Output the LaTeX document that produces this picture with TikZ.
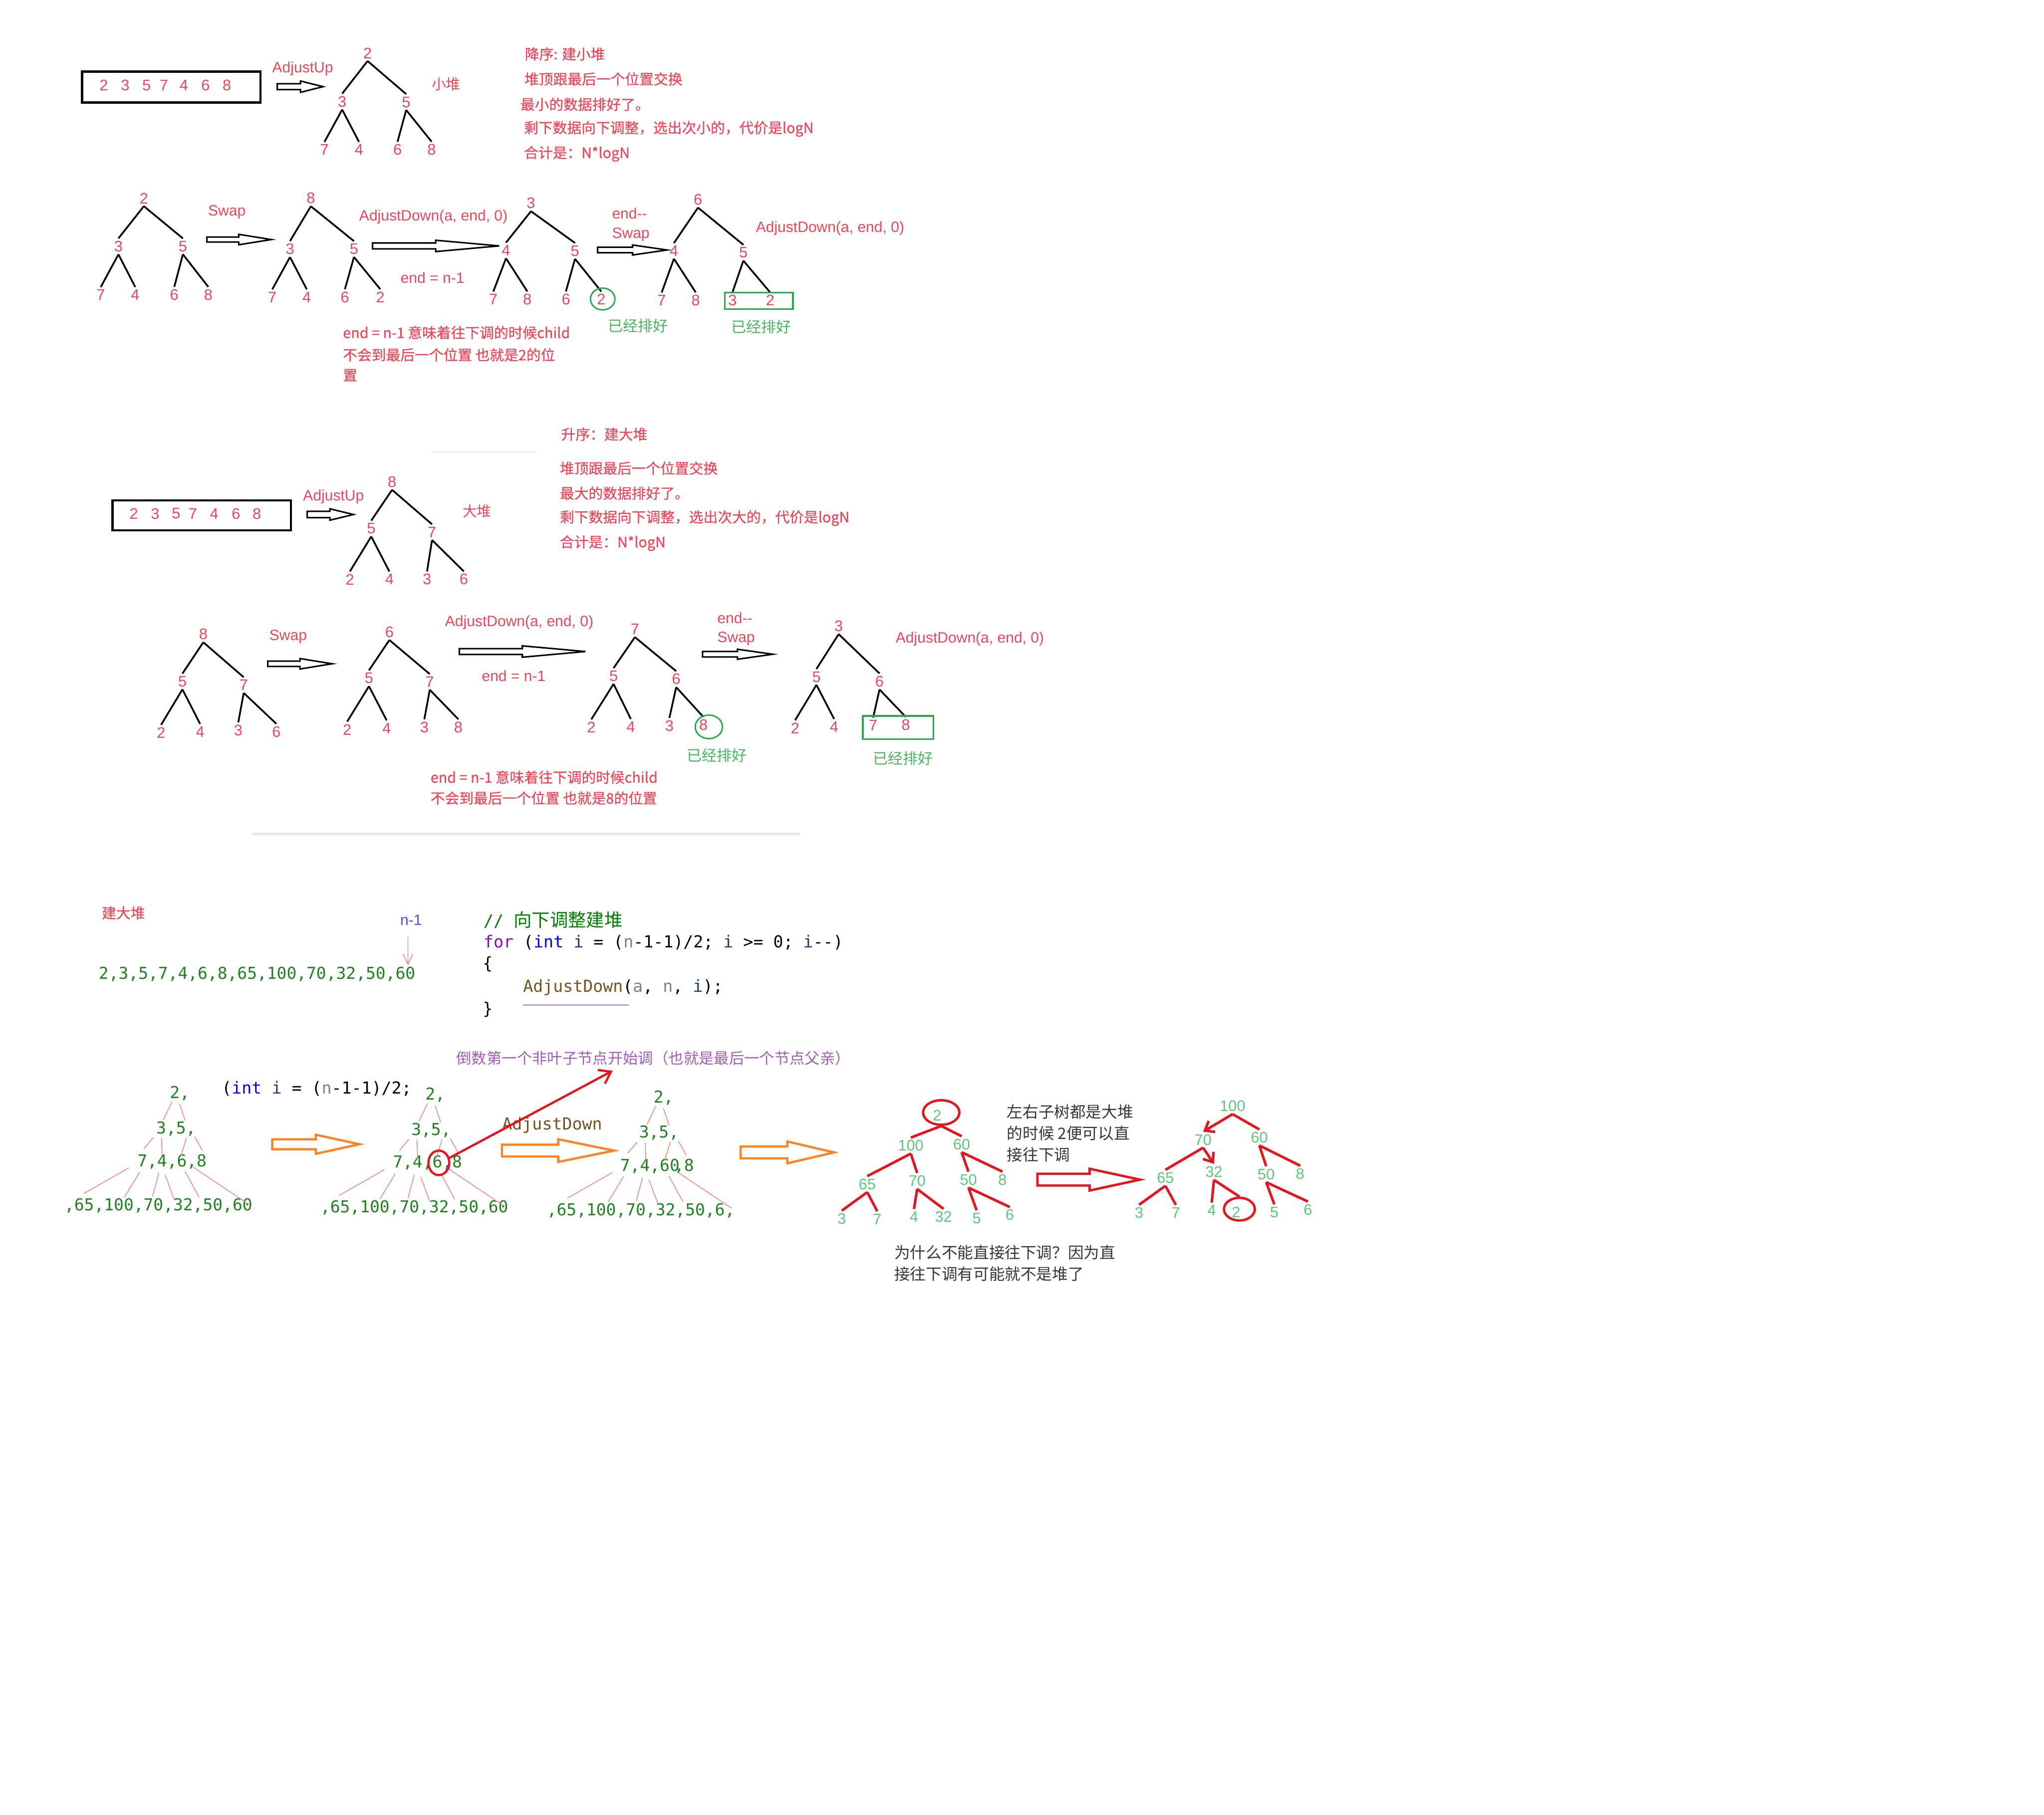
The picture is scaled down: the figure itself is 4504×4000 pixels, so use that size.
\documentclass[tikz,border=0pt]{standalone}
\usepackage{fontspec}
\setmainfont{Liberation Sans}
\newfontfamily\cjkf{Noto Sans CJK SC}
\newfontfamily\cjkm{Noto Sans CJK SC}[FakeBold=0.6]
\newfontfamily\monof{DejaVu Sans Mono}
\usetikzlibrary{arrows.meta,shapes.geometric}
\definecolor{hred}{RGB}{240,70,88}
\definecolor{okgreen}{RGB}{40,170,70}
\definecolor{okgtext}{RGB}{70,185,90}
\definecolor{mgreen}{RGB}{30,130,30}
\definecolor{lgreen}{RGB}{90,200,120}
\definecolor{pinkc}{RGB}{245,135,135}
\definecolor{orng}{RGB}{255,130,35}
\definecolor{bred}{RGB}{230,20,30}
\definecolor{dgray}{RGB}{55,55,55}
\definecolor{purpl}{RGB}{165,90,190}
\definecolor{nblue}{RGB}{80,80,220}
\definecolor{kwpurple}{RGB}{143,8,196}
\definecolor{kwblue}{RGB}{0,0,255}
\definecolor{idblue}{RGB}{31,55,127}
\definecolor{ngray}{RGB}{128,128,128}
\definecolor{brn}{RGB}{116,83,31}
\definecolor{cgreen}{RGB}{0,128,0}
\definecolor{faint}{RGB}{232,232,232}
% #1 style, #2 x start, #3 x head base, #4 x tip, #5 y centre, #6 shaft half, #7 head half
\newcommand\hollowarrow[7]{%
  \draw[#1] ({#2},{#5-#6}) -- ({#3},{#5-#6}) -- ({#3},{#5-#7}) -- ({#4},{#5})
    -- ({#3},{#5+#7}) -- ({#3},{#5+#6}) -- ({#2},{#5+#6}) -- cycle;}
\newcommand\sevedges[2]{%
  \draw[#2] (#1r.south) -- (#1a.north);
  \draw[#2] (#1r.south) -- (#1b.north);
  \draw[#2] (#1a.south) -- (#1c.north);
  \draw[#2] (#1a.south) -- (#1d.north);
  \draw[#2] (#1b.south) -- (#1e.north);
  \draw[#2] (#1b.south) -- (#1f.north);}
\begin{document}
\begin{tikzpicture}[x=0.1mm,y=-0.1mm,
  lab/.style={text=hred,font=\fontsize{9.4pt}{11pt}\selectfont,inner sep=0pt},
  tn/.style={text=hred,font=\fontsize{9.6pt}{11pt}\selectfont,inner sep=0.5mm},
  gn/.style={text=lgreen,font=\fontsize{9.6pt}{11pt}\selectfont,inner sep=0.5mm},
  tedge/.style={line width=1.1pt,black},
  redge/.style={line width=1.6pt,bred},
  blk/.style={draw=black,line width=0.95pt,line join=miter},
  oarr/.style={draw=orng,line width=1.4pt,line join=miter},
  ctext/.style={text=hred,font=\cjkm\fontsize{9pt}{11pt}\selectfont,inner sep=0pt,anchor=west},
  gtext/.style={text=okgtext,font=\cjkf\fontsize{9.4pt}{11pt}\selectfont,inner sep=0pt},
  grtxt/.style={text=dgray,font=\cjkf\fontsize{9.9pt}{12pt}\selectfont,inner sep=0pt,anchor=west},
  mrow/.style={text=mgreen,font=\monof\fontsize{10.3pt}{12pt}\selectfont,inner sep=0pt},
  code/.style={font=\monof\fontsize{10.4pt}{12pt}\selectfont,inner sep=0pt,anchor=west},
  pinkl/.style={draw=pinkc,line width=0.5pt},
  boxst/.style={draw=black,line width=1.4pt,minimum width=39.3mm,inner sep=0pt}
]
\fill[white] (0,0) rectangle (4504,4000);
\useasboundingbox (0,0) rectangle (4504,4000);

%================ Section 1 : descending =================
\node[boxst,minimum height=6.8mm] (boxa) at (377.5,192) {};
\foreach \x/\d [count=\i] in {229/2,276/3,323/5,361/7,405/4,453/6,500/8}
  \node[tn] (bxa\i) at (\x,188) {\d};
\hollowarrow{blk}{611}{662}{712}{191}{6.5}{12.5}
\node[lab] (adjup1) at (667,151) {AdjustUp};
\node[tn] (tar) at (810,117) {2};
\node[tn] (taa) at (754,224) {3};
\node[tn] (tab) at (895,225) {5};
\node[tn] (tac) at (715,330) {7};
\node[tn] (tad) at (791,330) {4};
\node[tn] (tae) at (876,330) {6};
\node[tn] (taf) at (951,330) {8};
\sevedges{ta}{tedge}
\node[text=hred,font=\cjkf\fontsize{9pt}{11pt}\selectfont,inner sep=0pt] (xiaodui) at (983,185) {小堆};
\node[ctext] (d1) at (1156,119) {降序: 建小堆};
\node[ctext] (d2) at (1155,174) {堆顶跟最后一个位置交换};
\node[ctext] (d3) at (1146,230) {最小的数据排好了。};
\node[ctext] (d4) at (1154,284) {剩下数据向下调整，选出次小的，代价是logN};
\node[ctext] (d5) at (1154,339) {合计是：N*logN};

%================ Section 2 =================
\node[tn] (par) at (317,437) {2};
\node[tn] (paa) at (261,543) {3};
\node[tn] (pab) at (403,543) {5};
\node[tn] (pac) at (222,650) {7};
\node[tn] (pad) at (298,650) {4};
\node[tn] (pae) at (384,650) {6};
\node[tn] (paf) at (459,650) {8};
\sevedges{pa}{tedge}
\hollowarrow{blk}{456}{526}{598}{528}{5.5}{11.5}
\node[lab] (swap1) at (500,468) {Swap};

\node[tn] (pbr) at (685,437) {8};
\node[tn] (pba) at (639,549) {3};
\node[tn] (pbb) at (780,549) {5};
\node[tn] (pbc) at (600,655) {7};
\node[tn] (pbd) at (676,655) {4};
\node[tn] (pbe) at (760,655) {6};
\node[tn] (pbf) at (838,655) {2};
\sevedges{pb}{tedge}
\hollowarrow{blk}{821}{960}{1100}{542}{6.5}{12.5}
\node[lab,anchor=west] (ad1) at (791,478) {AdjustDown(a, end, 0)};
\node[lab] (en1) at (953,612) {end = n-1};
\node[ctext] (m1) at (755,733) {end = n-1 意味着往下调的时候child};
\node[ctext] (m2) at (755,782) {不会到最后一个位置 也就是2的位};
\node[ctext] (m3) at (755,827) {置};

\node[tn] (pcr) at (1170,448) {3};
\node[tn] (pca) at (1115,552) {4};
\node[tn] (pcb) at (1267,553) {5};
\node[tn] (pcc) at (1087,660) {7};
\node[tn] (pcd) at (1162,660) {8};
\node[tn] (pce) at (1247,660) {6};
\node[tn] (pcf) at (1325,660) {2};
\sevedges{pc}{tedge}
\node[draw=okgreen,ellipse,line width=0.9pt,minimum width=5.4mm,minimum height=4.8mm,inner sep=0pt] (gc1) at (1328,659) {};
\node[gtext] (ok1) at (1406,718) {已经排好};
\hollowarrow{blk}{1317}{1394}{1470}{551}{6}{11}
\node[lab,anchor=west] (endd1) at (1348,470) {end-{}-};
\node[lab,anchor=west] (swap2) at (1348,517) {Swap};

\node[tn] (pdr) at (1538,440) {6};
\node[tn] (pda) at (1485,553) {4};
\node[tn] (pdb) at (1638,557) {5};
\node[tn] (pdc) at (1458,662) {7};
\node[tn] (pdd) at (1533,662) {8};
\node[tn] (pde) at (1614,662) {3};
\node[tn] (pdf) at (1697,662) {2};
\sevedges{pd}{tedge}
\node[draw=okgreen,line width=1.1pt,minimum width=15mm,minimum height=3.6mm,inner sep=0pt] (gr1) at (1672,663) {};
\node[gtext] (ok2) at (1677,720) {已经排好};
\node[lab,anchor=west] (ad2) at (1665,503) {AdjustDown(a, end, 0)};

%================ Section 3 : ascending =================
\draw[faint,line width=0.8pt] (950,996) -- (1180,996);
\node[boxst,minimum height=6.6mm] (boxb) at (444.5,1136) {};
\foreach \x/\d [count=\i] in {295/2,342/3,388/5,425/7,472/4,520/6,566/8}
  \node[tn] (bxb\i) at (\x,1132) {\d};
\hollowarrow{blk}{677}{727}{779}{1134}{7}{12.5}
\node[lab] (adjup2) at (735,1095) {AdjustUp};
\node[tn] (per) at (864,1062) {8};
\node[tn] (pea) at (818,1165) {5};
\node[tn] (peb) at (952,1173) {7};
\node[tn] (pec) at (771,1277) {2};
\node[tn] (ped) at (858,1277) {4};
\node[tn] (pee) at (941,1277) {3};
\node[tn] (pef) at (1022,1277) {6};
\sevedges{pe}{tedge}
\node[text=hred,font=\cjkf\fontsize{9pt}{11pt}\selectfont,inner sep=0pt] (dadui) at (1051,1127) {大堆};
\node[ctext] (u1) at (1236,957) {升序：建大堆};
\node[ctext] (u2) at (1233,1032) {堆顶跟最后一个位置交换};
\node[ctext] (u3) at (1233,1087) {最大的数据排好了。};
\node[ctext] (u4) at (1233,1142) {剩下数据向下调整，选出次大的，代价是logN};
\node[ctext] (u5) at (1233,1197) {合计是：N*logN};

%================ Section 4 =================
\node[tn] (pfr) at (448,1398) {8};
\node[tn] (pfa) at (402,1502) {5};
\node[tn] (pfb) at (537,1510) {7};
\node[tn] (pfc) at (355,1615) {2};
\node[tn] (pfd) at (441,1613) {4};
\node[tn] (pfe) at (525,1610) {3};
\node[tn] (pff) at (609,1613) {6};
\sevedges{pf}{tedge}
\hollowarrow{blk}{590}{661}{732}{1463}{6}{11.5}
\node[lab] (swap3) at (635,1403) {Swap};

\node[tn] (pgr) at (858,1393) {6};
\node[tn] (pga) at (813,1495) {5};
\node[tn] (pgb) at (947,1503) {7};
\node[tn] (pgc) at (765,1608) {2};
\node[tn] (pgd) at (852,1605) {4};
\node[tn] (pge) at (935,1603) {3};
\node[tn] (pgf) at (1010,1603) {8};
\sevedges{pg}{tedge}
\hollowarrow{blk}{1012}{1151}{1290}{1436}{6.5}{12.5}
\node[lab,anchor=west] (ad3) at (980,1372) {AdjustDown(a, end, 0)};
\node[lab] (en2) at (1132,1490) {end = n-1};
\node[ctext] (m4) at (948,1713) {end = n-1 意味着往下调的时候child};
\node[ctext] (m5) at (948,1759) {不会到最后一个位置 也就是8的位置};

\node[tn] (phr) at (1399,1387) {7};
\node[tn] (pha) at (1352,1490) {5};
\node[tn] (phb) at (1490,1497) {6};
\node[tn] (phc) at (1303,1603) {2};
\node[tn] (phd) at (1390,1602) {4};
\node[tn] (phe) at (1475,1600) {3};
\node[tn] (phf) at (1550,1598) {8};
\sevedges{ph}{tedge}
\node[draw=okgreen,ellipse,line width=0.9pt,minimum width=6mm,minimum height=5.2mm,inner sep=0pt] (gc2) at (1562,1602) {};
\node[gtext] (ok3) at (1580,1665) {已经排好};
\hollowarrow{blk}{1548}{1625}{1703}{1442}{6}{11}
\node[lab,anchor=west] (endd2) at (1580,1362) {end-{}-};
\node[lab,anchor=west] (swap4) at (1580,1408) {Swap};

\node[tn] (pir) at (1848,1380) {3};
\node[tn] (pia) at (1799,1492) {5};
\node[tn] (pib) at (1938,1502) {6};
\node[tn] (pic) at (1752,1605) {2};
\node[tn] (pid) at (1838,1602) {4};
\node[tn] (pie) at (1924,1599) {7};
\node[tn] (pif) at (1996,1598) {8};
\sevedges{pi}{tedge}
\node[draw=okgreen,line width=1.1pt,minimum width=15.6mm,minimum height=5.1mm,inner sep=0pt] (gr2) at (1979,1603.5) {};
\node[gtext] (ok4) at (1990,1672) {已经排好};
\node[lab,anchor=west] (ad4) at (1973,1408) {AdjustDown(a, end, 0)};
\draw[faint,line width=1.4pt] (555,1838) -- (1762,1838);

%================ Section 5 : code =================
\node[text=hred,font=\cjkm\fontsize{9pt}{11pt}\selectfont,inner sep=0pt] (jdd) at (272,2012) {建大堆};
\node[lab,text=nblue] (nm1) at (906,2028) {n-1};
\coordinate (narrS) at (899,2065);
\coordinate (narrE) at (899,2127);
\draw[hred!80,line width=0.4pt,-{Straight Barb[length=2.3mm,width=2.2mm]}] (narrS) -- (narrE);
\node[mrow,anchor=west] (seq) at (217,2147) {2,3,5,7,4,6,8,65,100,70,32,50,60};
\node[code,text=cgreen] (cmt) at (1065,2027) {// {\cjkf\fontsize{11.4pt}{13pt}\selectfont 向下调整建堆}};
\node[code] (forl) at (1065,2077) {\textcolor{kwpurple}{for} (\textcolor{kwblue}{int} \textcolor{idblue}{i} = (\textcolor{ngray}{n}-1-1)/2; \textcolor{idblue}{i} >= 0; \textcolor{idblue}{i}-{}-)};
\node[code] (ob) at (1063,2125) {\{};
\node[code] (adjl) at (1152,2177) {\textcolor{brn}{AdjustDown}(\textcolor{ngray}{a}, \textcolor{ngray}{n}, \textcolor{idblue}{i});};
\node[code] (cb) at (1063,2225) {\}};
\draw[purpl!60,line width=0.9pt] (1152,2215) -- (1385,2215);

%================ Section 6 =================
\node[mrow] (i1) at (396,2410) {2,};
\node[mrow] (i2) at (388,2488) {3,5,};
\node[mrow] (i3) at (379,2560) {7,4,6,8};
\node[mrow] (i4) at (349,2657) {,65,100,70,32,50,60};
\node[mrow] (j1) at (959,2413) {2,};
\node[mrow] (j2) at (950,2491) {3,5,};
\node[mrow] (j3) at (942,2563) {7,4,6,8};
\node[mrow] (j4) at (913,2662) {,65,100,70,32,50,60};
\node[mrow] (k1) at (1462,2420) {2,};
\node[mrow] (k2) at (1452,2497) {3,5,};
\node[mrow,anchor=west] (k3) at (1366,2570) {7,4,60\kern-0.33em,8};
\node[mrow] (k4) at (1412,2668) {,65,100,70,32,50,6,};
\foreach \dx/\dy in {0/0,563/4,1066/10}{
  \foreach \ax/\ay/\bx/\by in {379/2428/360/2468, 396/2433/408/2470,
     338/2507/317/2532, 356/2508/357/2547, 411/2507/399/2547, 429/2505/446/2536,
     284/2574/184/2631, 308/2583/274/2639, 350/2585/336/2637, 364/2590/384/2644,
     408/2582/439/2639, 425/2572/546/2653}
    \draw[pinkl] ({\ax+\dx},{\ay+\dy}) -- ({\bx+\dx},{\by+\dy});
}
\node[code] (snip) at (488,2400) {(\textcolor{kwblue}{int} \textcolor{idblue}{i} = (\textcolor{ngray}{n}-1-1)/2;};
\hollowarrow{oarr}{600}{696}{792}{2522}{11}{21}
\node[draw=bred,ellipse,line width=1.4pt,minimum width=4.6mm,minimum height=5.4mm,inner sep=0pt] (rc6) at (967,2563) {};
\node[code,text=brn] (adj3) at (1106,2480) {AdjustDown};
\coordinate (ptip) at (1350,2360);
\draw[bred,line width=1.4pt,-{Straight Barb[length=2.4mm,width=3.4mm]}] (rc6.25) -- (ptip);
\node[text=purpl,font=\cjkf\fontsize{9.5pt}{11pt}\selectfont,inner sep=0pt,anchor=west] (purptxt) at (1005,2332) {倒数第一个非叶子节点开始调（也就是最后一个节点父亲）};
\hollowarrow{oarr}{1106}{1230}{1353}{2536}{13}{25}
\hollowarrow{oarr}{1632}{1735}{1838}{2540}{13}{24}

% tree L
\node[gn] (qlr) at (2065,2458) {2};
\node[draw=bred,ellipse,line width=1.5pt,minimum width=8mm,minimum height=5.4mm,inner sep=0pt] (rcl) at (2074,2452) {};
\node[gn] (qla) at (2007,2525) {100};
\node[gn] (qlb) at (2119,2522) {60};
\node[gn] (qlc) at (1911,2610) {65};
\node[gn] (qld) at (2021,2603) {70};
\node[gn] (qle) at (2134,2600) {50};
\node[gn] (qlf) at (2209,2600) {8};
\node[gn] (qlg) at (1855,2686) {3};
\node[gn] (qlh) at (1933,2687) {7};
\node[gn] (qli) at (2014,2682) {4};
\node[gn] (qlj) at (2079,2682) {32};
\node[gn] (qlk) at (2152,2685) {5};
\node[gn] (qll) at (2225,2678) {6};
\draw[redge] (rcl.south) -- (qla.north);
\draw[redge] (rcl.south) -- (qlb.north);
\draw[redge] (qla.south) -- (qlc.north);
\draw[redge] (qla.south) -- (qld.north);
\draw[redge] (qlb.south) -- (qle.north);
\draw[redge] (qlb.south) -- (qlf.north);
\draw[redge] (qlc.south) -- (qlg.north);
\draw[redge] (qlc.south) -- (qlh.north);
\draw[redge] (qld.south) -- (qli.north);
\draw[redge] (qld.south) -- (qlj.north);
\draw[redge] (qle.south) -- (qlk.north);
\draw[redge] (qle.south) -- (qll.north);
\node[grtxt] (g1) at (2218,2450) {左右子树都是大堆};
\node[grtxt] (g2) at (2218,2498) {的时候 2便可以直};
\node[grtxt] (g3) at (2218,2545) {接往下调};
\hollowarrow{draw=bred,line width=1.5pt,line join=miter}{2286}{2401}{2512}{2600}{13}{24}

% tree M
\node[gn] (qmr) at (2716,2438) {100};
\node[gn] (qma) at (2651,2512) {70};
\node[gn] (qmb) at (2775,2507) {60};
\node[gn] (qmc) at (2568,2596) {65};
\node[gn] (qmd) at (2675,2583) {32};
\node[gn] (qme) at (2790,2588) {50};
\node[gn] (qmf) at (2865,2587) {8};
\node[gn] (qmg) at (2510,2673) {3};
\node[gn] (qmh) at (2591,2673) {7};
\node[gn] (qmi) at (2670,2668) {4};
\node[gn] (qmj) at (2724,2672) {2};
\node[gn] (qmk) at (2808,2672) {5};
\node[gn] (qml) at (2882,2666) {6};
\node[draw=bred,ellipse,line width=1.5pt,minimum width=6.8mm,minimum height=5mm,inner sep=0pt] (rcm) at (2731,2665) {};
\draw[redge,-{Straight Barb[length=1.8mm,width=2.8mm]}] (qmr.south) -- (qma.north);
\draw[redge] (qmr.south) -- (qmb.north);
\draw[redge] (qma.south) -- (qmc.north);
\draw[redge,-{Straight Barb[length=1.8mm,width=2.8mm]}] (qma.south) -- (qmd.north);
\draw[redge] (qmb.south) -- (qme.north);
\draw[redge] (qmb.south) -- (qmf.north);
\draw[redge] (qmc.south) -- (qmg.north);
\draw[redge] (qmc.south) -- (qmh.north);
\draw[redge] (qmd.south) -- (qmi.north);
\draw[redge] (qmd.south) -- (rcm.north);
\draw[redge] (qme.south) -- (qmk.north);
\draw[redge] (qme.south) -- (qml.north);
\node[grtxt] (g4) at (1970,2760) {为什么不能直接往下调？因为直};
\node[grtxt] (g5) at (1970,2808) {接往下调有可能就不是堆了};
\end{tikzpicture}
\end{document}
